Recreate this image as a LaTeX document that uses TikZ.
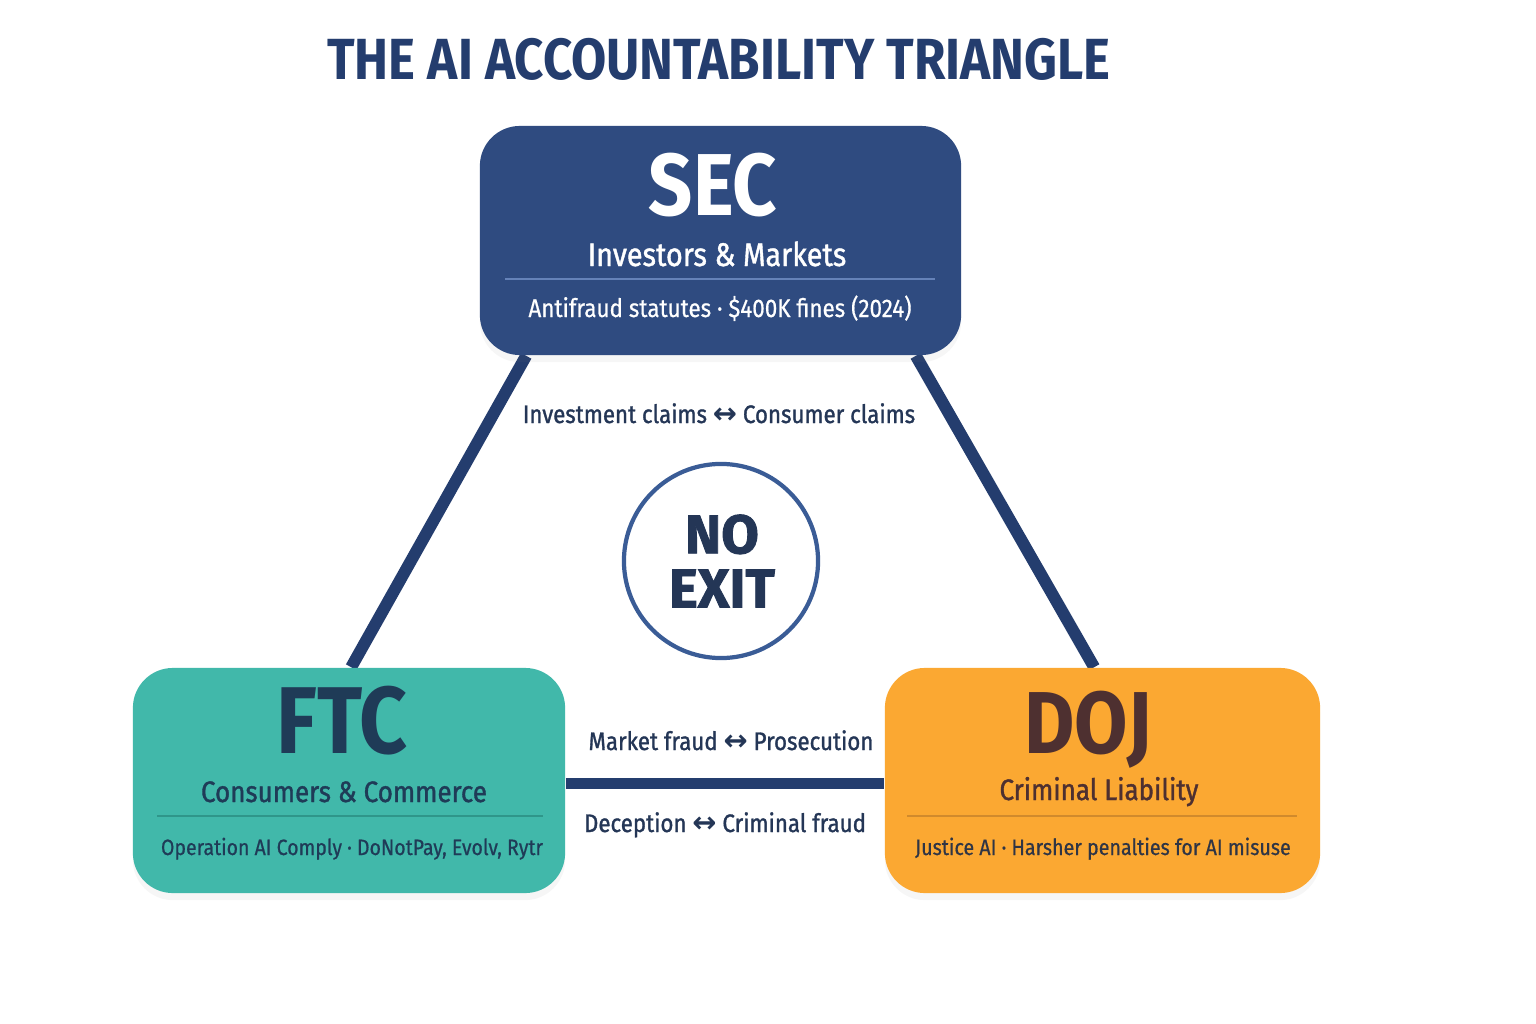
\documentclass[tikz,border=0pt]{standalone}
\usepackage{fontspec}
\setmainfont{Fira Sans}[FakeStretch=0.88]
\newfontfamily\semib{Fira Sans}[FakeStretch=0.88, FakeBold=1.2]
\newfontfamily\medium{Fira Sans}[FakeStretch=0.88, FakeBold=0.6]
\newfontfamily\heavy{Fira Sans}[BoldFeatures={FakeBold=1.6}]
\newfontfamily\symb{DejaVu Sans}
\usepackage{xcolor}
\usetikzlibrary{positioning,backgrounds,shadows}
\definecolor{navy}{HTML}{243D6E}
\definecolor{secblue}{HTML}{2F4B80}
\definecolor{secline}{HTML}{6582B8}
\definecolor{teal}{HTML}{41B8AA}
\definecolor{tealline}{HTML}{2F968A}
\definecolor{ftcink}{HTML}{1F3B57}
\definecolor{amber}{HTML}{FBA832}
\definecolor{amberline}{HTML}{D18A2C}
\definecolor{dojink}{HTML}{4E3030}
\definecolor{dojsub}{HTML}{2F3545}
\definecolor{ink}{HTML}{243656}
\definecolor{ringblue}{HTML}{3A5C96}
\newcommand{\lr}{{\symb\bfseries\fontsize{8.2pt}{9pt}\selectfont ↔}}

\begin{document}
\begin{tikzpicture}[
    x=0.01cm, y=-0.01cm,
    box/.style={rounded corners=0.4cm, fill=#1,
      drop shadow={opacity=0.07, shadow xshift=0pt, shadow yshift=-2pt}},
    link/.style={line width=3.4pt, navy},
    sepline/.style={line width=0.8pt, #1},
    big/.style={font=\bfseries\fontsize{25pt}{28pt}\selectfont, anchor=base, inner sep=0},
    sub/.style={font=\semib\fontsize{8.4pt}{10pt}\selectfont, anchor=base, inner sep=0},
    detail/.style={font=\medium\fontsize{#1}{9pt}\selectfont, anchor=base, inner sep=0},
    detail/.default=7pt,
    lbl/.style={font=\semib\fontsize{7.2pt}{9pt}\selectfont, text=ink, anchor=base, inner sep=0},
]
\useasboundingbox (0,0) rectangle (1536,1024);
% Title
\node[font=\bfseries\fontsize{16.5pt}{18pt}\selectfont, text=navy, anchor=base, inner sep=0] (title) at (719,80) {THE AI ACCOUNTABILITY TRIANGLE};
% Agencies
\node[box=secblue, minimum width=4.81cm, minimum height=2.29cm] (sec) at (720.5,240.5) {};
\node[box=teal, minimum width=4.32cm, minimum height=2.25cm] (ftc) at (349,780.5) {};
\node[box=amber, minimum width=4.35cm, minimum height=2.25cm] (doj) at (1102.5,780.5) {};
% SEC text
\node[big, text=white] (secname) at (713,215) {SEC};
\node[sub, text=white, font=\semib\fontsize{9.3pt}{10pt}\selectfont] (secsub) at (717,266) {Investors \& Markets};
\draw[sepline=secline] (505,279) -- (935,279);
\node[detail=7.25pt, text=white] (secinfo) at (720,317) {Antifraud statutes · \$400K fines (2024)};
% FTC text
\node[big, text=ftcink, font=\bfseries\fontsize{27pt}{28pt}\selectfont] (ftcname) at (342,753) {FTC};
\node[sub, text=ftcink] (ftcsub) at (344,802) {Consumers \& Commerce};
\draw[sepline=tealline] (157,816) -- (543,816);
\node[detail=6.3pt, text=ftcink] (ftcinfo) at (352,855) {Operation AI Comply · DoNotPay, Evolv, Rytr};
% DOJ text
\node[big, text=dojink] (dojname) at (1088,753) {DOJ};
\node[sub, text=dojink] (dojsub) at (1099,800) {Criminal Liability};
\draw[sepline=amberline] (907,816) -- (1297,816);
\node[detail=6.35pt, text=dojsub] (dojinfo) at (1103,855) {Justice AI · Harsher penalties for AI misuse};
% Links
\begin{scope}[on background layer]
\fill[white] (0,0) rectangle (1536,1024);
\draw[link] ([xshift=47*0.01cm]sec.south west) -- ([xshift=219*0.01cm]ftc.north west);
\draw[link] ([xshift=-46*0.01cm]sec.south east) -- ([xshift=210*0.01cm]doj.north west);
\draw[link] ([yshift=-3*0.01cm]ftc.east) -- ([yshift=-3*0.01cm]doj.west);
\end{scope}
% Edge labels
\node[lbl] (l1) at (719,423) {Investment claims \lr{} Consumer claims};
\node[lbl] (l2) at (731,750) {Market fraud \lr{} Prosecution};
\node[lbl] (l3) at (725,832) {Deception \lr{} Criminal fraud};
% Centre
\node[circle, draw=ringblue, line width=1.2pt, minimum size=1.94cm] (ring) at (721,561) {};
\node[font=\heavy\bfseries\fontsize{15.5pt}{16pt}\selectfont, text=ink, align=center, inner sep=0] (noexit) at (722,561) {NO\\[-0.6pt]EXIT};
\end{tikzpicture}
\end{document}
